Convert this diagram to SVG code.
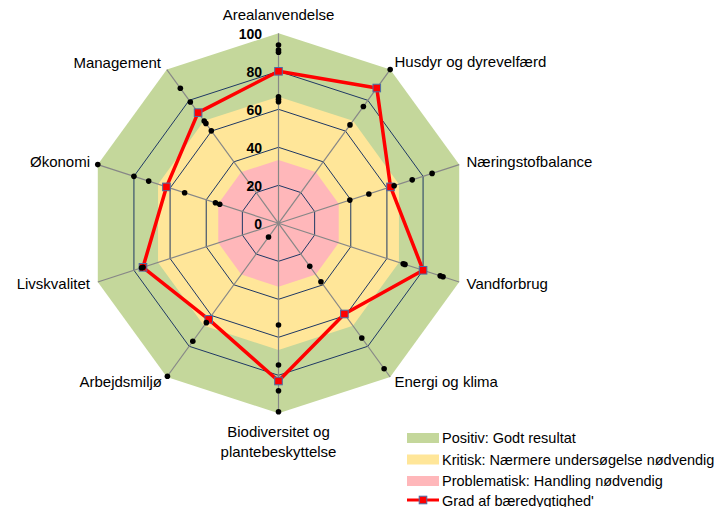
<svg xmlns="http://www.w3.org/2000/svg" xmlns:xlink="http://www.w3.org/1999/xlink" width="726" height="507" viewBox="0 0 726 507">
<style>
.cat{font-family:"Liberation Sans",Arial,sans-serif;font-size:15px;fill:#000}
.num{font-family:"Liberation Sans",Arial,sans-serif;font-size:14px;font-weight:bold;fill:#000;text-anchor:end}
.leg{font-family:"Liberation Sans",Arial,sans-serif;font-size:14.5px;fill:#000}
.ring{fill:none;stroke:#1F3864;stroke-width:1}
.spoke{stroke:#878787;stroke-width:1.2}
.dot{fill:#000}
.series{fill:none;stroke:#FF0000;stroke-width:3.5;stroke-linejoin:round}
</style>
<defs>
<rect id="mk" x="-3.8" y="-3.8" width="7.6" height="7.6" fill="#FF0000" stroke="#4A6FA8" stroke-width="1"/>
<circle id="d" r="2.8" fill="#000"/>
</defs>
<rect width="726" height="507" fill="#FFFFFF"/>
<g id="chart" transform="translate(278.5,223.3)">
<g id="zones">
<polygon fill="#C4D79B" points="0,-190 111.68,-153.71 180.71,-58.71 180.71,58.71 111.68,153.71 0,190 -111.68,153.71 -180.71,58.71 -180.71,-58.71 -111.68,-153.71"/>
<polygon fill="#FFE699" points="0,-126.67 74.45,-102.47 120.47,-39.14 120.47,39.14 74.45,102.47 0,126.67 -74.45,102.47 -120.47,39.14 -120.47,-39.14 -74.45,-102.47"/>
<polygon fill="#FFB7BA" points="0,-63.33 37.23,-51.24 60.24,-19.57 60.24,19.57 37.23,51.24 0,63.33 -37.23,51.24 -60.24,19.57 -60.24,-19.57 -37.23,-51.24"/>
</g>
<g id="grid">
<polygon class="ring" points="0,-38 22.34,-30.74 36.14,-11.74 36.14,11.74 22.34,30.74 0,38 -22.34,30.74 -36.14,11.74 -36.14,-11.74 -22.34,-30.74"/>
<polygon class="ring" points="0,-76 44.67,-61.48 72.28,-23.48 72.28,23.48 44.67,61.48 0,76 -44.67,61.48 -72.28,23.48 -72.28,-23.48 -44.67,-61.48"/>
<polygon class="ring" points="0,-114 67.01,-92.23 108.42,-35.23 108.42,35.23 67.01,92.23 0,114 -67.01,92.23 -108.42,35.23 -108.42,-35.23 -67.01,-92.23"/>
<polygon class="ring" points="0,-152 89.35,-122.97 144.57,-46.97 144.57,46.97 89.35,122.97 0,152 -89.35,122.97 -144.57,46.97 -144.57,-46.97 -89.35,-122.97"/>
<line class="spoke" x1="0" y1="0" x2="0" y2="-190"/>
<line class="spoke" x1="0" y1="0" x2="111.68" y2="-153.71"/>
<line class="spoke" x1="0" y1="0" x2="180.71" y2="-58.71"/>
<line class="spoke" x1="0" y1="0" x2="180.71" y2="58.71"/>
<line class="spoke" x1="0" y1="0" x2="111.68" y2="153.71"/>
<line class="spoke" x1="0" y1="0" x2="0" y2="190"/>
<line class="spoke" x1="0" y1="0" x2="-111.68" y2="153.71"/>
<line class="spoke" x1="0" y1="0" x2="-180.71" y2="58.71"/>
<line class="spoke" x1="0" y1="0" x2="-180.71" y2="-58.71"/>
<line class="spoke" x1="0" y1="0" x2="-111.68" y2="-153.71"/>
</g>
<g id="scale">
<text class="num" x="-16.5" y="-184.5">100</text>
<text class="num" x="-16.5" y="-146.5">80</text>
<text class="num" x="-16.5" y="-108.5">60</text>
<text class="num" x="-16.5" y="-70.5">40</text>
<text class="num" x="-16.5" y="-32.5">20</text>
<text class="num" x="-16.5" y="5.5">0</text>
</g>
<g id="series-grad">
<polygon class="series" points="0,-152 98.28,-135.27 112.04,-36.40 144.57,46.97 65.89,90.69 0,157.7 -69.80,96.07 -135.53,44.03 -112.04,-36.40 -80.41,-110.67"/>
<use href="#mk" x="0" y="-152"/>
<use href="#mk" x="98.28" y="-135.27"/>
<use href="#mk" x="112.04" y="-36.40"/>
<use href="#mk" x="144.57" y="46.97"/>
<use href="#mk" x="65.89" y="90.69"/>
<use href="#mk" x="0" y="157.7"/>
<use href="#mk" x="-69.80" y="96.07"/>
<use href="#mk" x="-135.53" y="44.03"/>
<use href="#mk" x="-112.04" y="-36.40"/>
<use href="#mk" x="-80.41" y="-110.67"/>
</g>
<g id="series-dots">
<use href="#d" x="0" y="-178.3"/><use href="#d" x="0" y="-173.3"/><use href="#d" x="0" y="-171"/>
<use href="#d" x="0" y="-126.6"/><use href="#d" x="0" y="-124"/><use href="#d" x="0" y="-121.6"/>
<use href="#d" x="111.68" y="-153.71"/><use href="#d" x="84.88" y="-116.82"/><use href="#d" x="71.48" y="-98.38"/>
<use href="#d" x="153.60" y="-49.90"/><use href="#d" x="133.72" y="-43.45"/><use href="#d" x="115.65" y="-37.57"/><use href="#d" x="90.35" y="-29.36"/><use href="#d" x="71.33" y="-23.18"/>
<use href="#d" x="124.69" y="40.51"/><use href="#d" x="126.49" y="41.10"/><use href="#d" x="161.69" y="52.53"/><use href="#d" x="164.54" y="53.46"/>
<use href="#d" x="31.27" y="43.04"/><use href="#d" x="42.44" y="58.41"/><use href="#d" x="83.29" y="114.64"/><use href="#d" x="105.63" y="145.38"/>
<use href="#d" x="0" y="101.7"/><use href="#d" x="0" y="141.7"/><use href="#d" x="0" y="167.4"/><use href="#d" x="0" y="188.4"/>
<use href="#d" x="-9.99" y="13.75"/><use href="#d" x="-72.18" y="99.35"/><use href="#d" x="-85.70" y="117.95"/><use href="#d" x="-111.09" y="152.90"/>
<use href="#d" x="-135.53" y="44.03"/><use href="#d" x="-136.96" y="44.50"/>
<use href="#d" x="-180.71" y="-58.71"/><use href="#d" x="-144.57" y="-46.97"/><use href="#d" x="-129.83" y="-42.18"/><use href="#d" x="-93.87" y="-30.50"/><use href="#d" x="-63.06" y="-20.49"/><use href="#d" x="-58.78" y="-19.10"/>
<use href="#d" x="-98.16" y="-135.10"/><use href="#d" x="-88.17" y="-121.35"/><use href="#d" x="-74.30" y="-102.26"/><use href="#d" x="-72.59" y="-99.91"/><use href="#d" x="-67.18" y="-92.47"/>
</g>
</g>
<g id="labels">
<g id="cat-arealanvendelse"><text class="cat" x="278.5" y="20" text-anchor="middle">Arealanvendelse</text></g>
<g id="cat-husdyr"><text class="cat" x="394.5" y="67">Husdyr og dyrevelfærd</text></g>
<g id="cat-naering"><text class="cat" x="466.5" y="166.5">Næringstofbalance</text></g>
<g id="cat-vand"><text class="cat" x="466.5" y="288.5">Vandforbrug</text></g>
<g id="cat-energi"><text class="cat" x="394.5" y="386.5">Energi og klima</text></g>
<g id="cat-biodiv"><text class="cat" x="278.5" y="437" text-anchor="middle">Biodiversitet og</text><text class="cat" x="278.5" y="457" text-anchor="middle">plantebeskyttelse</text></g>
<g id="cat-arbejd"><text class="cat" x="162" y="386.5" text-anchor="end">Arbejdsmiljø</text></g>
<g id="cat-livs"><text class="cat" x="90" y="288.5" text-anchor="end">Livskvalitet</text></g>
<g id="cat-okonomi"><text class="cat" x="90" y="166.5" text-anchor="end">Økonomi</text></g>
<g id="cat-management"><text class="cat" x="161" y="67.5" text-anchor="end">Management</text></g>
</g>
<g id="legend">
<rect x="407" y="433" width="32" height="10" fill="#C4D79B"/>
<text class="leg" x="442" y="443">Positiv: Godt resultat</text>
<rect x="407" y="454.5" width="32" height="10" fill="#FFE699"/>
<text class="leg" x="442" y="464.5">Kritisk: Nærmere undersøgelse nødvendig</text>
<rect x="407" y="476" width="32" height="10" fill="#FFB7BA"/>
<text class="leg" x="442" y="486">Problematisk: Handling nødvendig</text>
<line x1="407" y1="500" x2="439" y2="500" stroke="#FF0000" stroke-width="3"/>
<use href="#mk" x="423" y="500"/>
<text class="leg" x="442" y="505.5">Grad af bæredygtighed'</text>
</g>
</svg>
